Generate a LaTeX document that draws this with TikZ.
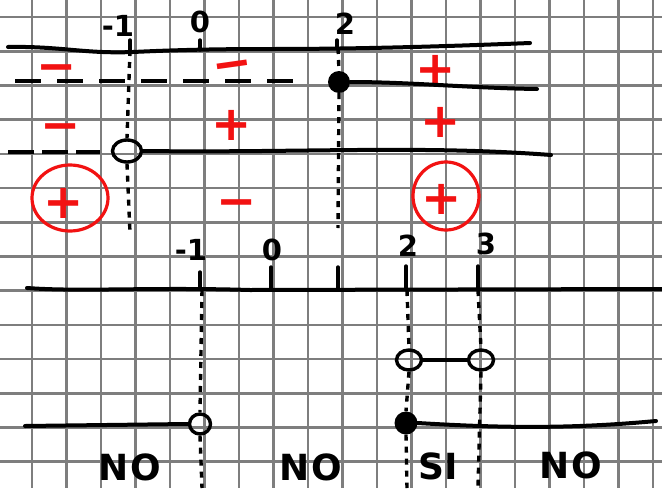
\documentclass[tikz,border=0pt]{standalone}
\usepackage{fontspec}
\setmainfont{DejaVu Sans}
\usetikzlibrary{shapes.geometric}
\definecolor{gridgray}{HTML}{7E7E7E}
\definecolor{signred}{HTML}{F21212}
\tikzset{
  gridline/.style={draw=gridgray, line width=2.6pt},
  ink/.style={draw=black, line width=4pt, line cap=round},
  thinink/.style={draw=black, line width=3.4pt, line cap=round},
  dotvert/.style={draw=black, line width=3.4pt, dash pattern=on 6pt off 6pt},
  dashrowA/.style={draw=black, line width=4pt, dash pattern=on 26pt off 16pt},
  dashrowB/.style={draw=black, line width=4pt, dash pattern=on 26pt off 8pt},
  opendot/.style={ellipse, draw=black, line width=3.4pt, inner sep=0pt},
  fulldot/.style={circle, fill=black, inner sep=0pt},
  sign/.style={text=signred, font=\fontsize{48}{48}\selectfont\bfseries, inner sep=0pt, text height=33pt, text depth=0pt},
  ring/.style={ellipse, draw=signred, line width=3.2pt, inner sep=0pt},
  num/.style={font=\fontsize{29}{29}\selectfont\bfseries, inner sep=0pt},
  word/.style={font=\fontsize{36}{36}\selectfont\bfseries, inner sep=0pt},
}
\begin{document}
\begin{tikzpicture}[x=1pt,y=-1pt]
\useasboundingbox (0,0) rectangle (662,488);
\fill[white] (0,0) rectangle (662,488);
\foreach \k in {1,...,19} \draw[gridline] ({-2.5+34.5*\k},0) -- ({-2.5+34.5*\k},488);
\foreach \j in {0,...,13} \draw[gridline] (0,{17+34.2*\j}) -- (662,{17+34.2*\j});

% ---------- top chart ----------
\node[num] (tl1) at (118,26) {-1};
\node[num] (tl0) at (200,22) {0};
\node[num] (tl2) at (345,24) {2};

\coordinate (taL) at (8,47);
\coordinate (taR) at (530,43);
\draw[ink] (taL) .. controls (60,46) and (85,54) .. (133,52) .. controls (175,50) and (215,49) .. (270,49) .. controls (350,49) and (430,47) .. (taR);

\coordinate (tkAt) at (130,40); \coordinate (tkAb) at (130,50);
\coordinate (tkBt) at (200,40); \coordinate (tkBb) at (200,50);
\coordinate (tkCt) at (337,40); \coordinate (tkCb) at (337,48);
\draw[thinink] (tkAt) -- (tkAb);
\draw[thinink] (tkBt) -- (tkBb);
\draw[thinink] (tkCt) -- (tkCb);

% row 1
\node[sign] (s11) at (57,66) {−};
\node[sign, rotate=8] (s12) at (232,63) {−};
\node[sign] (s13) at (436,69) {+};

\node[fulldot, minimum size=22pt] (fd1) at (339,82) {};
\coordinate (r1L) at (15,81);
\coordinate (r1M) at (300,81);
\coordinate (r1R) at (537,89);
\draw[dashrowA] (r1L) -- (r1M);
\draw[ink] (fd1.east) .. controls (410,82) and (470,88) .. (r1R);

% row 2
\node[sign] (s21) at (61,125) {−};
\node[sign] (s22) at (232,124) {+};
\node[sign] (s23) at (441,121) {+};

\node[opendot, minimum width=29pt, minimum height=22pt] (oc1) at (127,151) {};
\coordinate (r2L) at (8,152);
\coordinate (r2M) at (100,152);
\coordinate (r2R) at (551,155);
\draw[dashrowB] (r2L) -- (r2M);
\draw[ink] (oc1.east) .. controls (300,153) and (420,145) .. (r2R);

% verticals (top)
\coordinate (vAb) at (130,233);
\coordinate (vCt) at (338,48);
\coordinate (vCb) at (338,228);
\draw[dotvert] (tkAb) -- (oc1.north);
\draw[dotvert] (oc1.south) -- (vAb);
\draw[dotvert] (vCt) -- (fd1.north);
\draw[dotvert] (fd1.south) -- (vCb);

% row 3
\node[ring, minimum width=76pt, minimum height=66pt] (rg1) at (70,198) {};
\node[sign] (s31) at (64,202) {+};
\node[sign] (s32) at (237,201) {−};
\node[ring, minimum width=66pt, minimum height=68pt] (rg2) at (446,196) {};
\node[sign] (s33) at (442,198) {+};

% ---------- bottom chart ----------
\node[num] (bl1) at (191,250) {-1};
\node[num] (bl0) at (272,250) {0};
\node[num] (bl2) at (408,246) {2};
\node[num] (bl3) at (486,244) {3};

\coordinate (baL) at (27,288);
\coordinate (baR) at (662,289);
\draw[ink] (baL) .. controls (80,292) and (150,287) .. (250,290) -- (baR);

\coordinate (bkAt) at (200,272); \coordinate (bkAb) at (200,289);
\coordinate (bkBt) at (271,267); \coordinate (bkBb) at (271,289);
\coordinate (bkCt) at (338,267); \coordinate (bkCb) at (338,289);
\coordinate (bkDt) at (406,266); \coordinate (bkDb) at (406,289);
\coordinate (bkEt) at (478,266); \coordinate (bkEb) at (478,289);
\draw[thinink] (bkAt) -- (bkAb);
\draw[thinink] (bkBt) -- (bkBb);
\draw[thinink] (bkCt) -- (bkCb);
\draw[thinink] (bkDt) -- (bkDb);
\draw[thinink] (bkEt) -- (bkEb);

\node[opendot, minimum width=25pt, minimum height=20pt] (oc2) at (409,360) {};
\node[opendot, minimum width=25pt, minimum height=20pt] (oc3) at (481,360) {};
\node[opendot, minimum width=21pt, minimum height=20pt] (oc4) at (200,424) {};
\node[fulldot, minimum size=23pt] (fd2) at (406,423) {};

\draw[thinink] (oc2.east) -- (oc3.west);
\coordinate (l4L) at (25,426);
\draw[ink] (l4L) -- (oc4.west);
\coordinate (l5R) at (656,421);
\draw[ink] (fd2.east) .. controls (500,428) and (570,429) .. (l5R);

\coordinate (vDb) at (202,488);
\coordinate (vEb) at (407,488);
\coordinate (vFb) at (478,488);
\draw[dotvert] (202,290) -- (oc4.north);
\draw[dotvert] (oc4.south) -- (vDb);
\draw[dotvert] (407,290) -- (oc2.north);
\draw[dotvert] (oc2.south) -- (fd2.north);
\draw[dotvert] (fd2.south) -- (vEb);
\draw[dotvert] (478,290) -- (oc3.north);
\draw[dotvert] (oc3.south) -- (vFb);

\node[word] (w1) at (130,467) {N\kern2pt O};
\node[word] (w2) at (311,467) {N\kern2pt O};
\node[word] (w3) at (438,466) {SI};
\node[word] (w4) at (571,465) {N\kern2pt O};
\end{tikzpicture}
\end{document}
